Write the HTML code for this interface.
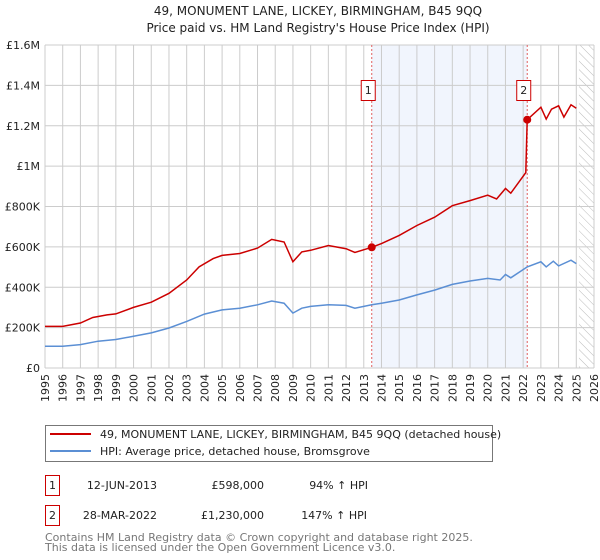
<!DOCTYPE html>
<html><head><meta charset="utf-8"><style>
body{margin:0;background:#fff;font-family:"DejaVu Sans","Liberation Sans",sans-serif;}
svg{display:block}
</style></head><body>
<svg width="600" height="560" xmlns="http://www.w3.org/2000/svg" font-family="DejaVu Sans, Liberation Sans, sans-serif">
<text x="318" y="15" font-size="12" text-anchor="middle" fill="#222">49, MONUMENT LANE, LICKEY, BIRMINGHAM, B45 9QQ</text>
<text x="318" y="32" font-size="12" text-anchor="middle" fill="#222">Price paid vs. HM Land Registry's House Price Index (HPI)</text>
<defs><pattern id="hatch" width="6" height="6" patternUnits="userSpaceOnUse" patternTransform="rotate(-45)"><line x1="0" y1="0" x2="0" y2="6" stroke="#bbb" stroke-width="1"/></pattern></defs>
<g id="grid"></g>
<g id="marks"></g>
<g id="legend">
<rect x="45.5" y="425.5" width="447" height="36" fill="#fff" stroke="#777"/>
<line x1="50" y1="434" x2="91" y2="434" stroke="#cc0000" stroke-width="2"/>
<text x="100" y="438" font-size="11" fill="#222">49, MONUMENT LANE, LICKEY, BIRMINGHAM, B45 9QQ (detached house)</text>
<line x1="50" y1="451" x2="91" y2="451" stroke="#5b8fd4" stroke-width="2"/>
<text x="100" y="455" font-size="11" fill="#222">HPI: Average price, detached house, Bromsgrove</text>
</g>
<g font-size="11" fill="#222">
<rect x="45.5" y="475.5" width="14" height="20" fill="#fff" stroke="#cc0000"/>
<text x="52.5" y="489" text-anchor="middle">1</text>
<text x="157" y="489" text-anchor="end">12-JUN-2013</text>
<text x="264" y="489" text-anchor="end">£598,000</text>
<text x="368" y="489" text-anchor="end">94% ↑ HPI</text>
<rect x="45.5" y="505.5" width="14" height="20" fill="#fff" stroke="#cc0000"/>
<text x="52.5" y="519" text-anchor="middle">2</text>
<text x="157" y="519" text-anchor="end">28-MAR-2022</text>
<text x="264" y="519" text-anchor="end">£1,230,000</text>
<text x="367" y="519" text-anchor="end">147% ↑ HPI</text>
</g>
<text x="45" y="541" font-size="11" fill="#777">Contains HM Land Registry data © Crown copyright and database right 2025.</text>
<text x="45" y="551" font-size="11" fill="#777">This data is licensed under the Open Government Licence v3.0.</text>
</svg>
<script>
const redYears=[1995,1996,1997,1997.7,1998.5,1999,2000,2001,2002,2003,2003.7,2004.5,2005,2006,2007,2007.8,2008.5,2009,2009.5,2010,2011,2012,2012.5,2013.45,2014,2015,2016,2017,2018,2019,2020,2020.5,2021,2021.3,2022.15,2022.23,2023,2023.3,2023.6,2024,2024.3,2024.7,2025];
const redValues=[206,206,223,250,263,268,300,326,370,436,501,542,558,567,594,637,624,526,575,583,607,591,572,598,616,657,706,747,804,829,856,837,889,866,968,1230,1292,1233,1282,1299,1243,1304,1287];
const hpiYears=[1995,1996,1997,1998,1999,2000,2001,2002,2003,2004,2005,2006,2007,2007.8,2008.5,2009,2009.5,2010,2011,2012,2012.5,2013.45,2014,2015,2016,2017,2018,2019,2020,2020.7,2021,2021.3,2022.23,2023,2023.3,2023.7,2024,2024.7,2025];
const hpiValues=[108,108,116,133,141,157,174,198,231,267,288,296,313,332,321,272,296,305,313,310,296,313,321,337,362,386,414,431,444,436,463,447,501,526,501,529,506,534,517];
const saleYears=[2013.45,2022.23];
const saleValues=[598,1230];
const saleLabels=["1","2"];
const yTicks=[0,200,400,600,800,1000,1200,1400,1600];
const yTickLabels=["£0","£200K","£400K","£600K","£800K","£1M","£1.2M","£1.4M","£1.6M"];
const xTicks=[];for(let y=1995;y<=2026;y++)xTicks.push(y);

const NS="http://www.w3.org/2000/svg";
const X0=45,X1=594,Y0=368,Y1=45;
const sx=y=>X0+(y-1995)/(2026-1995)*(X1-X0);
const sy=v=>Y0-v/1600*(Y0-Y1);
function mk(tag,attrs,parent){const e=document.createElementNS(NS,tag);for(const k in attrs)e.setAttribute(k,attrs[k]);parent.appendChild(e);return e;}
const grid=document.getElementById('grid'),marks=document.getElementById('marks');

let r=mk('rect',{x:sx(2013.45),y:Y1,width:sx(2022.23)-sx(2013.45),height:Y0-Y1,fill:'#eef3fc',opacity:0.8},grid);


r=mk('rect',{x:sx(2025.15),y:Y1,width:X1-sx(2025.15),height:Y0-Y1,fill:'url(#hatch)'},grid);



xTicks.forEach(t=>{
  const l=mk('line',{x1:sx(t),x2:sx(t),y1:Y1,y2:Y0,stroke:'#ccc','stroke-width':1},grid);
  
  
  const tx=mk('text',{x:0,y:0,'font-size':11,fill:'#222','text-anchor':'end',transform:`translate(${sx(t)+4},${Y0+6}) rotate(-90)`},grid);
  tx.textContent=t;
  
  
});
yTicks.forEach((t,i)=>{
  const l=mk('line',{x1:X0,x2:X1,y1:sy(t),y2:sy(t),stroke:'#ccc','stroke-width':1},grid);
  
  
  const tx=mk('text',{x:X0-5,y:sy(t)+4,'font-size':11,fill:'#222','text-anchor':'end'},grid);
  tx.textContent=yTickLabels[i];
  
  
});

saleYears.forEach((s,i)=>{
  const l=mk('line',{x1:sx(s),x2:sx(s),y1:Y1,y2:Y0,stroke:'#e06060','stroke-width':1,'stroke-dasharray':'2,2'},marks);
  
  
  const b=mk('rect',{x:sx(s)-10.5,y:80.5,width:14,height:20,fill:'#fff',stroke:'#cc0000'},marks);
  
  
  const t=mk('text',{x:sx(s)-3.5,y:94,'font-size':11,fill:'#222','text-anchor':'middle'},marks);
  t.textContent=saleLabels[i];
  
  
});

const hp=mk('path',{d:hpiYears.map((y,i)=>(i?'L':'M')+sx(y).toFixed(1)+','+sy(hpiValues[i]).toFixed(1)).join(''),fill:'none',stroke:'#5b8fd4','stroke-width':1.5},marks);


const rp=mk('path',{d:redYears.map((y,i)=>(i?'L':'M')+sx(y).toFixed(1)+','+sy(redValues[i]).toFixed(1)).join(''),fill:'none',stroke:'#cc0000','stroke-width':1.5},marks);


saleYears.forEach((s,i)=>{
  const c=mk('circle',{cx:sx(s),cy:sy(saleValues[i]),r:4,fill:'#cc0000'},marks);
  
  
});
</script>
</body></html>
